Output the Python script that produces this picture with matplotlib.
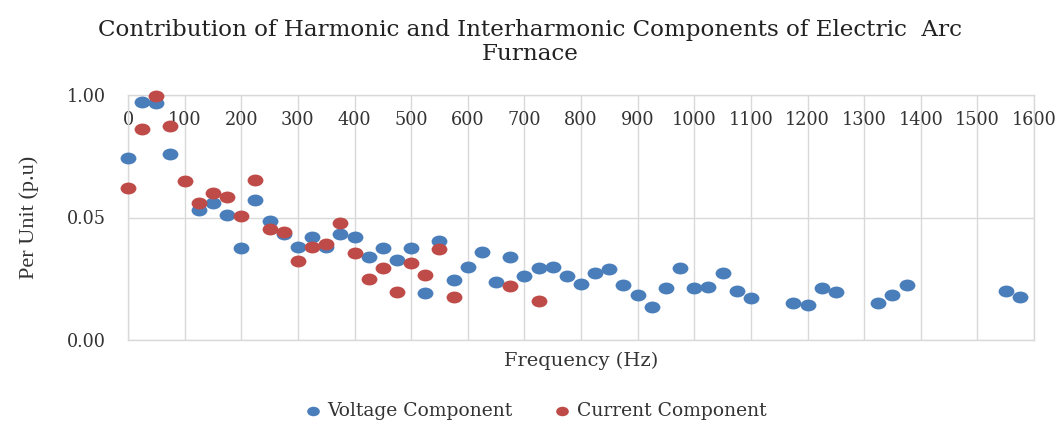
import numpy as np
import matplotlib
matplotlib.use("Agg")
import matplotlib.pyplot as plt
from matplotlib.path import Path
from matplotlib.markers import MarkerStyle

# ---- data ----
volt_freq = [0, 25, 50, 75, 125, 150, 175, 200, 225, 250, 275, 300, 325, 350, 375, 400,
             425, 450, 475, 500, 525, 550, 575, 600, 625, 650, 675, 700, 725, 750, 775, 800,
             825, 850, 875, 900, 925, 950, 975, 1000, 1025, 1050, 1075, 1100, 1175, 1200,
             1225, 1250, 1325, 1350, 1375, 1550, 1575]
volt_pu = [0.214, 0.843, 0.82, 0.236, 0.060, 0.071, 0.053, 0.0237, 0.077, 0.046, 0.0334,
           0.0243, 0.031, 0.0243, 0.0334, 0.031, 0.019, 0.0237, 0.0177, 0.0237, 0.0079,
           0.028, 0.0108, 0.0149, 0.0215, 0.0103, 0.019, 0.012, 0.0146, 0.0149, 0.012,
           0.0098, 0.0129, 0.0142, 0.0096, 0.0075, 0.0056, 0.0089, 0.0146, 0.0089, 0.0091,
           0.0129, 0.0083, 0.0070, 0.0062, 0.0059, 0.0089, 0.0081, 0.0062, 0.0075, 0.0096,
           0.0083, 0.0072]

curr_freq = [0, 25, 50, 75, 100, 125, 150, 175, 200, 225, 250, 275, 300, 325, 350, 375,
             400, 425, 450, 475, 500, 525, 550, 575, 675, 725]
curr_pu = [0.103, 0.435, 0.98, 0.469, 0.122, 0.071, 0.091, 0.083, 0.052, 0.125, 0.038,
           0.035, 0.0173, 0.0243, 0.026, 0.044, 0.021, 0.0111, 0.0146, 0.0081, 0.0164,
           0.0123, 0.0232, 0.0072, 0.0094, 0.0065]

x_ticks = list(range(0, 1700, 100))
y_ticks = [1.0, 0.05, 0.0025]
y_tick_labels = ["1.00", "0.05", "0.00"]

title = "Contribution of Harmonic and Interharmonic Components of Electric  Arc\nFurnace"
series_names = ["Voltage Component", "Current Component"]
colors = ["#4A7EBB", "#BE4B48"]

# ---- style ----
plt.rcParams['font.family'] = ['DejaVu Serif']
grid_c = "#D9D9D9"
text_c = "#333333"

circ = Path.unit_circle()
ell = Path(circ.vertices * np.array([1.0, 0.75]), circ.codes)
marker = MarkerStyle(ell)

fig = plt.figure(figsize=(10.6, 4.24), dpi=100)
ax = fig.add_axes([128/1060, 1-340/424, (1034-128)/1060, (340-95)/424])

ax.set_yscale('log', base=20)
ax.set_ylim(0.0025, 1.0)
ax.set_xlim(0, 1600)

ax.scatter(volt_freq, volt_pu, s=130, marker=marker, color=colors[0],
           linewidths=0, zorder=3, clip_on=False, label=series_names[0])
ax.scatter(curr_freq, curr_pu, s=130, marker=marker, color=colors[1],
           linewidths=0, zorder=4, clip_on=False, label=series_names[1])

ax.set_yticks(y_ticks)
ax.set_yticklabels(y_tick_labels)
ax.yaxis.set_minor_locator(matplotlib.ticker.NullLocator())
ax.set_xticks(x_ticks)
ax.set_xticklabels([str(t) for t in x_ticks])

ax.xaxis.set_ticks_position('top')
ax.xaxis.set_label_position('bottom')
ax.tick_params(axis='x', which='both', length=0, labelsize=12.7, colors=text_c, pad=-24.3)
ax.tick_params(axis='y', which='both', length=0, labelsize=12.7, colors=text_c, pad=16)

ax.grid(True, color=grid_c, linewidth=1.0)
ax.set_axisbelow(True)
for sp in ax.spines.values():
    sp.set_color(grid_c)
    sp.set_linewidth(1.0)

ax.set_xlabel("Frequency (Hz)", fontsize=14, color=text_c, labelpad=8.5)
ax.set_ylabel("Per Unit (p.u)", fontsize=16, color=text_c, labelpad=20,
              family=['Liberation Serif', 'DejaVu Serif'])

fig.text(0.5, 1-42/424, title, ha='center', va='center', fontsize=16.6,
         color="#222222", linespacing=1.12)

handles, labels = ax.get_legend_handles_labels()
fig.legend(handles, labels, loc='center', bbox_to_anchor=(0.5, 1-411/424), ncol=2,
           frameon=False, fontsize=13.5, handletextpad=-0.2, columnspacing=1.6,
           markerscale=0.8, labelcolor=text_c)

fig.savefig("out.png", dpi=100)
